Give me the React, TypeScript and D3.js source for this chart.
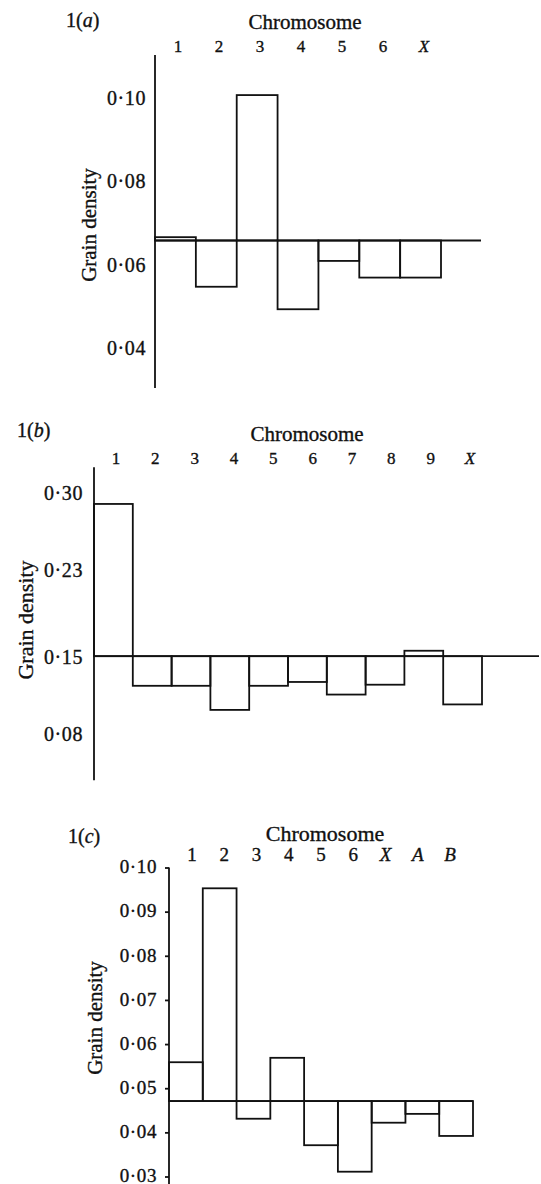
import React from "react";
import * as d3 from "d3";

// ---------- data ----------
const catsA = ["1", "2", "3", "4", "5", "6", "X"];
const valsA = [0.0666, 0.0547, 0.1007, 0.0493, 0.0609, 0.0569, 0.0569];
const baseA = 0.0658;
const ticksA = [0.04, 0.06, 0.08, 0.1];
const axisA = [0.0304, 0.1103];

const catsB = ["1", "2", "3", "4", "5", "6", "7", "8", "9", "X"];
const valsB = [0.29, 0.124, 0.124, 0.102, 0.124, 0.1275, 0.116, 0.125, 0.156, 0.107];
const baseB = 0.151;
const ticksB = [0.08, 0.15, 0.23, 0.3];
const axisB = [0.0378, 0.3235];

const catsC = ["1", "2", "3", "4", "5", "6", "X", "A", "B"];
const valsC = [0.056, 0.0954, 0.0432, 0.057, 0.0372, 0.0312, 0.0423, 0.0443, 0.0393];
const baseC = 0.0472;
const ticksC = [0.03, 0.04, 0.05, 0.06, 0.07, 0.08, 0.09, 0.1];
const axisC = [0.0284, 0.1001];

const ITALIC = new Set(["X", "A", "B"]);
const FONT = "'Liberation Serif', 'Times New Roman', serif";
const fmt = (v: number) => d3.format(".2f")(v).replace(".", "\u00B7");

type PanelProps = {
  cats: string[];
  vals: number[];
  base: number;
  ticks: number[];
  axis: number[];
  x0: number;
  x1: number;
  yDomain: [number, number];
  yRange: [number, number];
  baselineEnd: number;
  labelRange: [number, number];
  topLabelY: number;
  topLabelSize: number;
  chromX: number;
  chromY: number;
  chromSize: number;
  tickLabelX: number;
  tickLabelSize: number;
  tickLabelDy: string;
  titleX: number;
  titleY: number;
  titleSize: number;
  panelX: number;
  panelY: number;
  panelLetter: string;
  tickMarks: boolean;
};

function Panel(p: PanelProps) {
  const x = d3.scaleBand<string>().domain(p.cats).range([p.x0, p.x1]).padding(0);
  const xl = d3.scalePoint<string>().domain(p.cats).range(p.labelRange);
  const y = d3.scaleLinear().domain(p.yDomain).range(p.yRange);
  const sw = 1.8;
  const textStroke = { stroke: "#111", strokeWidth: 0.35 };
  return (
    <g fontFamily={FONT} fill="#111">
      {/* panel label */}
      <text x={p.panelX} y={p.panelY} fontSize={20} {...textStroke}>
        1(<tspan fontStyle="italic">{p.panelLetter}</tspan>)
      </text>
      {/* Chromosome title */}
      <text x={p.chromX} y={p.chromY} fontSize={p.chromSize} textAnchor="middle" {...textStroke}>
        Chromosome
      </text>
      {/* category labels */}
      {p.cats.map((c) => (
        <text
          key={c}
          x={xl(c)}
          y={p.topLabelY}
          fontSize={p.topLabelSize}
          textAnchor="middle"
          fontStyle={ITALIC.has(c) ? "italic" : "normal"}
          {...textStroke}
        >
          {c}
        </text>
      ))}
      {/* y axis */}
      <line
        x1={p.x0}
        x2={p.x0}
        y1={y(p.axis[0])}
        y2={y(p.axis[1])}
        stroke="#111"
        strokeWidth={sw}
      />
      {p.ticks.map((t) => (
        <g key={t}>
          {p.tickMarks && (
            <line x1={p.x0 - 4} x2={p.x0} y1={y(t)} y2={y(t)} stroke="#111" strokeWidth={sw} />
          )}
          <text
            x={p.tickLabelX}
            y={y(t)}
            dy={p.tickLabelDy}
            fontSize={p.tickLabelSize}
            textAnchor="end"
            letterSpacing={0.6}
            {...textStroke}
          >
            {fmt(t)}
          </text>
        </g>
      ))}
      {/* y title */}
      <text
        transform={`translate(${p.titleX},${p.titleY}) rotate(-90)`}
        fontSize={p.titleSize}
        textAnchor="middle"
        {...textStroke}
      >
        Grain density
      </text>
      {/* bars */}
      {p.cats.map((c, i) => {
        const v = p.vals[i];
        const top = y(Math.max(v, p.base));
        const bot = y(Math.min(v, p.base));
        return (
          <rect
            key={c}
            x={x(c)}
            y={top}
            width={x.bandwidth()}
            height={bot - top}
            fill="none"
            stroke="#111"
            strokeWidth={sw}
          />
        );
      })}
      {/* baseline */}
      <line
        x1={p.x0}
        x2={p.baselineEnd}
        y1={y(p.base)}
        y2={y(p.base)}
        stroke="#111"
        strokeWidth={sw}
      />
    </g>
  );
}

export default function App() {
  return (
    <svg
      width={541}
      height={1184}
      style={{ position: "absolute", left: 0, top: 0, display: "block", background: "#fff" }}
    >
      <rect x={0} y={0} width={541} height={1184} fill="#fff" />
      <Panel
        cats={catsA}
        vals={valsA}
        base={baseA}
        ticks={ticksA}
        axis={axisA}
        x0={155}
        x1={441}
        yDomain={[0.04, 0.1]}
        yRange={[348, 98]}
        baselineEnd={481}
        labelRange={[178, 424]}
        topLabelY={52}
        topLabelSize={17}
        chromX={305}
        chromY={29}
        chromSize={21}
        tickLabelX={146}
        tickLabelSize={20}
        tickLabelDy="0.35em"
        titleX={96}
        titleY={225}
        titleSize={21}
        panelX={66}
        panelY={27}
        panelLetter="a"
        tickMarks={false}
      />
      <Panel
        cats={catsB}
        vals={valsB}
        base={baseB}
        ticks={ticksB}
        axis={axisB}
        x0={94}
        x1={482}
        yDomain={[0.08, 0.3]}
        yRange={[734, 493]}
        baselineEnd={539}
        labelRange={[116, 470]}
        topLabelY={464}
        topLabelSize={17}
        chromX={307}
        chromY={441}
        chromSize={21}
        tickLabelX={83}
        tickLabelSize={20}
        tickLabelDy="0.35em"
        titleX={33}
        titleY={620}
        titleSize={22}
        panelX={17}
        panelY={437}
        panelLetter="b"
        tickMarks={false}
      />
      <Panel
        cats={catsC}
        vals={valsC}
        base={baseC}
        ticks={ticksC}
        axis={axisC}
        x0={169}
        x1={473}
        yDomain={[0.03, 0.1]}
        yRange={[1177, 868]}
        baselineEnd={473}
        labelRange={[192, 450]}
        topLabelY={861}
        topLabelSize={19}
        chromX={325}
        chromY={841}
        chromSize={22}
        tickLabelX={157}
        tickLabelSize={19}
        tickLabelDy="0.28em"
        titleX={102}
        titleY={1018}
        titleSize={21}
        panelX={68}
        panelY={843}
        panelLetter="c"
        tickMarks={true}
      />
    </svg>
  );
}
